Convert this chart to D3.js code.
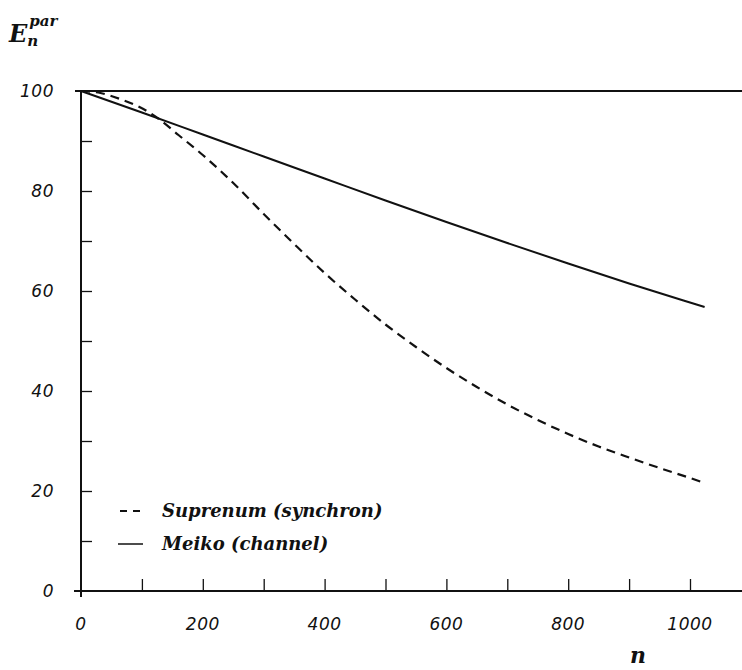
<!DOCTYPE html>
<html>
<head>
<meta charset="utf-8">
<script src="https://cdn.jsdelivr.net/npm/d3@7"></script>
<style>
  body { margin: 0; background: #fff; }
  svg { display: block; }
  .tick-label { font-family: "DejaVu Sans", sans-serif; font-style: oblique; font-size: 17px; letter-spacing: 0.5px; fill: #111; }
  .serif { font-family: "DejaVu Serif", serif; font-style: italic; font-weight: bold; fill: #111; }
</style>
</head>
<body>
<div id="graphic"></div>
<script>
// efficiency E_n^par (%) against n
var meikoN = [0, 100, 200, 300, 400, 500, 600, 700, 800, 900, 1000, 1024];
var meikoE = [100, 95.7, 91.3, 86.9, 82.5, 78.1, 73.8, 69.6, 65.5, 61.5, 57.7, 56.8];

var suprenumN = [0, 32, 64, 96, 128, 160, 200, 250, 300, 350, 400, 450, 500, 550, 600, 650, 700, 750, 800, 850, 900, 950, 1000, 1024];
var suprenumE = [100, 99.6, 98.4, 96.8, 94.4, 91.2, 87.2, 81.6, 75.4, 69.4, 63.6, 58.3, 53.3, 48.8, 44.6, 40.8, 37.3, 34.2, 31.4, 28.9, 26.7, 24.6, 22.6, 21.6];

var xLabelTicks = [0, 200, 400, 600, 800, 1000];
var xMinorTicks = [100, 200, 300, 400, 500, 600, 700, 800, 900, 1000];
var yLabelTicks = [0, 20, 40, 60, 80, 100];
var yMinorTicks = [10, 20, 30, 40, 50, 60, 70, 80, 90];

var legendLabels = ["Suprenum (synchron)", "Meiko (channel)"];

var width = 742, height = 670;

var svg = d3.select('#graphic').append('svg')
  .attr('width', width)
  .attr('height', height);

var x = d3.scaleLinear().domain([0, 1000]).range([81, 690]);
var y = d3.scaleLinear().domain([0, 100]).range([591, 91]);

// frame: top line at 100, x axis line, y axis line
svg.append('line')
  .attr('x1', 75).attr('x2', width)
  .attr('y1', y(100)).attr('y2', y(100))
  .attr('stroke', '#111').attr('stroke-width', 2);

svg.append('line')
  .attr('x1', 74).attr('x2', width)
  .attr('y1', y(0)).attr('y2', y(0))
  .attr('stroke', '#111').attr('stroke-width', 2);

svg.append('line')
  .attr('x1', x(0)).attr('x2', x(0))
  .attr('y1', y(100)).attr('y2', y(0) + 6)
  .attr('stroke', '#111').attr('stroke-width', 2);

// x ticks pointing up into the plot
var xAxis = d3.axisTop(x).tickValues(xMinorTicks).tickSize(12).tickFormat('');
svg.append('g')
  .attr('transform', 'translate(0,' + y(0) + ')')
  .call(xAxis)
  .call(g => g.select('.domain').remove())
  .selectAll('line').attr('stroke', '#111').attr('stroke-width', 1.3);

// y ticks pointing right into the plot
var yAxis = d3.axisRight(y).tickValues(yMinorTicks).tickSize(11).tickFormat('');
svg.append('g')
  .attr('transform', 'translate(' + x(0) + ',0)')
  .call(yAxis)
  .call(g => g.select('.domain').remove())
  .selectAll('line').attr('stroke', '#111').attr('stroke-width', 1.3);

// tick labels
svg.append('g').selectAll('text')
  .data(xLabelTicks)
  .join('text')
  .attr('class', 'tick-label')
  .attr('x', d => x(d))
  .attr('y', 630)
  .attr('text-anchor', 'middle')
  .text(d => d);

svg.append('g').selectAll('text')
  .data(yLabelTicks)
  .join('text')
  .attr('class', 'tick-label')
  .attr('x', 54)
  .attr('y', d => y(d))
  .attr('dy', '0.36em')
  .attr('text-anchor', 'end')
  .text(d => d);

// curves
var line = d3.line()
  .x(d => x(d[0]))
  .y(d => y(d[1]))
  .curve(d3.curveMonotoneX);

svg.append('path')
  .datum(d3.zip(meikoN, meikoE))
  .attr('d', line)
  .attr('fill', 'none')
  .attr('stroke', '#111')
  .attr('stroke-width', 2);

svg.append('path')
  .datum(d3.zip(suprenumN, suprenumE))
  .attr('d', line)
  .attr('fill', 'none')
  .attr('stroke', '#111')
  .attr('stroke-width', 2.2)
  .attr('stroke-dasharray', '9,6');

// legend
var legend = svg.append('g');
legend.append('line')
  .attr('x1', 120).attr('x2', 142)
  .attr('y1', 511).attr('y2', 511)
  .attr('stroke', '#111').attr('stroke-width', 2)
  .attr('stroke-dasharray', '7,6');
legend.append('line')
  .attr('x1', 118).attr('x2', 143)
  .attr('y1', 544).attr('y2', 544)
  .attr('stroke', '#111').attr('stroke-width', 1.5);

legend.selectAll('text')
  .data(legendLabels)
  .join('text')
  .attr('class', 'serif')
  .attr('x', 162)
  .attr('y', (d, i) => 517 + i * 33)
  .style('font-size', '18px')
  .text(d => d);

// axis titles
var ytitle = svg.append('text')
  .attr('class', 'serif')
  .attr('x', 9)
  .attr('y', 42)
  .style('font-size', '24px');
ytitle.append('tspan').text('E');
ytitle.append('tspan').attr('dy', 4).style('font-size', '15px').text('n');
ytitle.append('tspan').attr('dx', -9).attr('dy', -20).style('font-size', '15px').text('par');

svg.append('text')
  .attr('class', 'serif')
  .attr('x', 638)
  .attr('y', 663)
  .attr('text-anchor', 'middle')
  .style('font-size', '22px')
  .text('n');
</script>
</body>
</html>
